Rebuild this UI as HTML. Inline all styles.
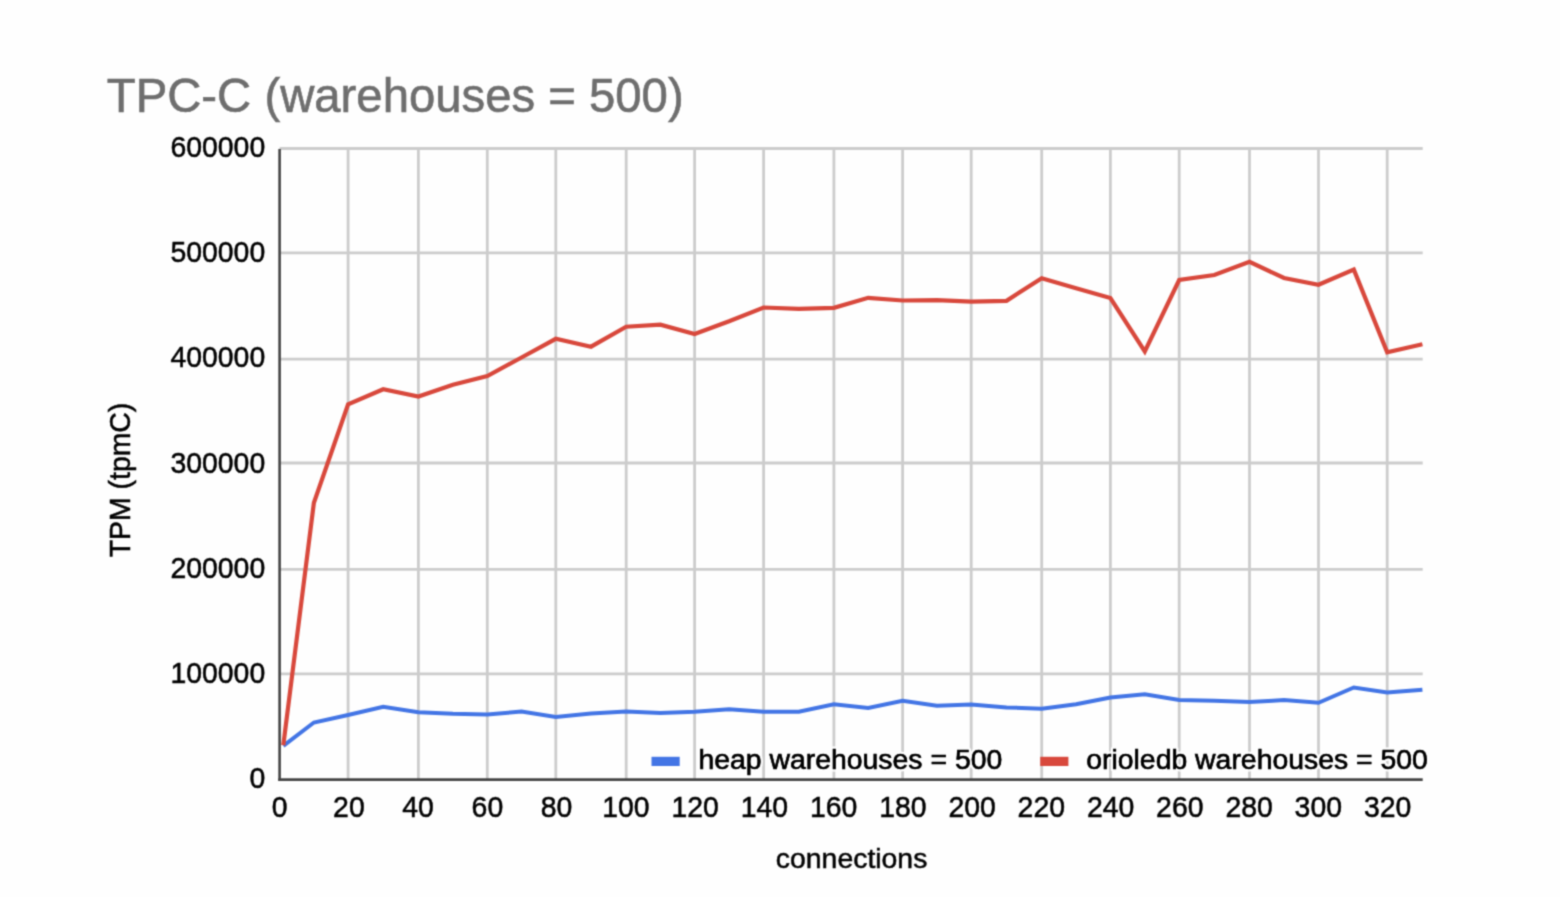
<!DOCTYPE html>
<html><head><meta charset="utf-8"><title>TPC-C (warehouses = 500)</title>
<style>html,body{margin:0;padding:0;background:#fefefe;overflow:hidden}body{width:1560px;height:897px;position:relative;font-family:"Liberation Sans",sans-serif}</style>
</head><body>
<svg width="1560" height="897" viewBox="0 0 1560 897" style="position:absolute;left:0;top:0;font-family:'Liberation Sans',sans-serif">
<defs><filter id="soft" x="0" y="0" width="1560" height="897" filterUnits="userSpaceOnUse" color-interpolation-filters="sRGB"><feConvolveMatrix order="3" kernelMatrix="1 3 1 3 9 3 1 3 1" edgeMode="duplicate" preserveAlpha="true" color-interpolation-filters="sRGB"/></filter></defs>
<rect width="1560" height="897" fill="#fefefe"/>
<g filter="url(#soft)">
<rect width="1560" height="897" fill="#fefefe"/>
<g stroke="#cccccc" stroke-width="2.8" fill="none">
<line x1="279.6" y1="148.5" x2="1422.7" y2="148.5"/>
<line x1="279.6" y1="252.8" x2="1422.7" y2="252.8"/>
<line x1="279.6" y1="359.2" x2="1422.7" y2="359.2"/>
<line x1="279.6" y1="463.0" x2="1422.7" y2="463.0"/>
<line x1="279.6" y1="569.4" x2="1422.7" y2="569.4"/>
<line x1="279.6" y1="673.8" x2="1422.7" y2="673.8"/>
</g><g stroke="#cccccc" stroke-width="2.8" fill="none">
<line x1="348.1" y1="148.5" x2="348.1" y2="779.6"/>
<line x1="418.4" y1="148.5" x2="418.4" y2="779.6"/>
<line x1="487.3" y1="148.5" x2="487.3" y2="779.6"/>
<line x1="555.8" y1="148.5" x2="555.8" y2="779.6"/>
<line x1="626.2" y1="148.5" x2="626.2" y2="779.6"/>
<line x1="694.6" y1="148.5" x2="694.6" y2="779.6"/>
<line x1="763.6" y1="148.5" x2="763.6" y2="779.6"/>
<line x1="833.9" y1="148.5" x2="833.9" y2="779.6"/>
<line x1="902.6" y1="148.5" x2="902.6" y2="779.6"/>
<line x1="971.2" y1="148.5" x2="971.2" y2="779.6"/>
<line x1="1041.7" y1="148.5" x2="1041.7" y2="779.6"/>
<line x1="1110.4" y1="148.5" x2="1110.4" y2="779.6"/>
<line x1="1179.2" y1="148.5" x2="1179.2" y2="779.6"/>
<line x1="1249.5" y1="148.5" x2="1249.5" y2="779.6"/>
<line x1="1318.5" y1="148.5" x2="1318.5" y2="779.6"/>
<line x1="1387.2" y1="148.5" x2="1387.2" y2="779.6"/>
</g>
<polyline points="283.3,745.8 313.9,722.5 348.1,715.0 383.2,706.7 418.4,712.2 452.9,713.8 487.3,714.4 521.5,711.6 555.8,717.0 591.0,713.5 626.2,711.5 660.4,712.9 694.6,711.7 729.1,709.2 763.6,711.8 798.8,711.7 833.9,704.2 868.2,708.0 902.6,700.8 936.9,705.8 971.2,704.5 1006.5,707.4 1041.7,708.7 1076.1,704.2 1110.4,697.5 1144.8,694.2 1179.2,700.0 1214.3,700.8 1249.5,702.1 1284.0,700.0 1318.5,702.8 1353.8,687.5 1387.2,692.5 1422.4,689.7" fill="none" stroke="#4375e5" stroke-width="4.0" stroke-linejoin="miter"/>
<polyline points="283.3,745.2 313.9,502.7 348.1,404.2 383.2,389.3 418.4,396.6 452.9,384.7 487.3,376.0 521.5,357.5 555.8,338.8 591.0,346.7 626.2,326.7 660.4,324.7 694.6,334.0 729.1,321.2 763.6,307.5 798.8,308.8 833.9,307.8 868.2,297.8 902.6,300.5 936.9,300.1 971.2,301.7 1006.5,300.8 1041.7,278.3 1076.1,288.3 1110.4,298.1 1144.8,351.5 1179.2,280.0 1214.3,275.0 1249.5,261.8 1284.0,278.0 1318.5,284.7 1353.8,269.6 1387.2,352.3 1422.4,344.2" fill="none" stroke="#d8483c" stroke-width="4.2" stroke-linejoin="miter"/>
<rect x="651.5" y="756.8" width="28.2" height="9.2" fill="#4375e5"/>
<rect x="1040.2" y="756.8" width="28.2" height="9.2" fill="#d8483c"/>
<g font-size="28.4" fill="#111" stroke="#fefefe" stroke-width="5" stroke-linejoin="round" paint-order="stroke">
<text x="698.4" y="769.4">heap warehouses = 500</text>
<text x="1086.2" y="769.4">orioledb warehouses = 500</text>
</g>
<g font-size="28.4" fill="#000" stroke="#000" stroke-width="0.5">
<text x="698.4" y="769.4">heap warehouses = 500</text>
<text x="1086.2" y="769.4">orioledb warehouses = 500</text>
</g>
<g stroke="#444" stroke-width="2.6" fill="none">
<line x1="279.6" y1="149.1" x2="279.6" y2="780.9"/>
<line x1="278.3" y1="779.6" x2="1422.7" y2="779.6"/>
</g>
<text transform="translate(106.8,111.6) scale(1,1.028)" font-size="47.3" fill="#6e6e6e" stroke="#6e6e6e" stroke-width="0.6">TPC-C (warehouses = 500)</text>
<g font-size="28.4" fill="#000" stroke="#000" stroke-width="0.5" text-anchor="end">
<text transform="translate(265.2,156.8) scale(1,1.07)">600000</text>
<text transform="translate(265.2,262.1) scale(1,1.07)">500000</text>
<text transform="translate(265.2,367.4) scale(1,1.07)">400000</text>
<text transform="translate(265.2,472.6) scale(1,1.07)">300000</text>
<text transform="translate(265.2,577.9) scale(1,1.07)">200000</text>
<text transform="translate(265.2,683.1) scale(1,1.07)">100000</text>
<text transform="translate(265.2,788.4) scale(1,1.07)">0</text>
</g>
<g font-size="28.4" fill="#000" stroke="#000" stroke-width="0.5" text-anchor="middle">
<text transform="translate(279.6,816.75) scale(1,1.07)">0</text>
<text transform="translate(348.9,816.75) scale(1,1.07)">20</text>
<text transform="translate(418.1,816.75) scale(1,1.07)">40</text>
<text transform="translate(487.4,816.75) scale(1,1.07)">60</text>
<text transform="translate(556.6,816.75) scale(1,1.07)">80</text>
<text transform="translate(625.9,816.75) scale(1,1.07)">100</text>
<text transform="translate(695.1,816.75) scale(1,1.07)">120</text>
<text transform="translate(764.4,816.75) scale(1,1.07)">140</text>
<text transform="translate(833.6,816.75) scale(1,1.07)">160</text>
<text transform="translate(902.9,816.75) scale(1,1.07)">180</text>
<text transform="translate(972.1,816.75) scale(1,1.07)">200</text>
<text transform="translate(1041.3,816.75) scale(1,1.07)">220</text>
<text transform="translate(1110.6,816.75) scale(1,1.07)">240</text>
<text transform="translate(1179.8,816.75) scale(1,1.07)">260</text>
<text transform="translate(1249.1,816.75) scale(1,1.07)">280</text>
<text transform="translate(1318.3,816.75) scale(1,1.07)">300</text>
<text transform="translate(1387.6,816.75) scale(1,1.07)">320</text>
<text x="851.6" y="867.8">connections</text>
<text transform="translate(129.8,480) rotate(-90) scale(1,1.06)">TPM (tpmC)</text>
</g>
</g>
</svg>
</body></html>
